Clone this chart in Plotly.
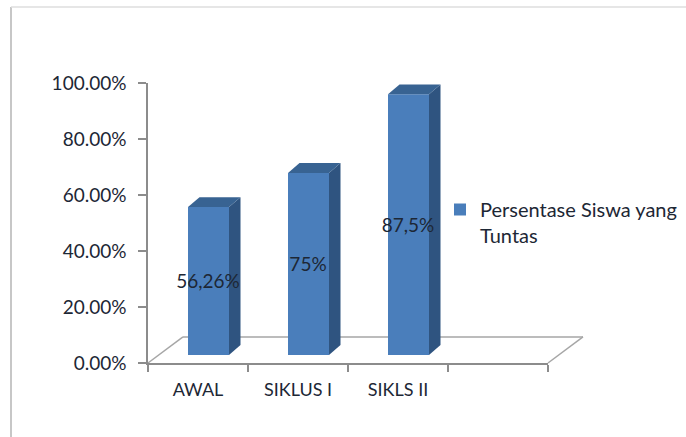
import plotly.graph_objects as go

categories = ["AWAL", "SIKLUS I", "SIKLS II"]
positions = [0, 1, 2]
bar_tops = [55.7, 67.9, 96.0]
floor_base = 2.9
data_labels = ["56,26%", "75%", "87,5%"]
series_name = "Persentase Siswa yang<br>Tuntas"
y_ticks = [0, 20, 40, 60, 80, 100]
y_tick_labels = ["0.00%", "20.00%", "40.00%", "60.00%", "80.00%", "100.00%"]
floor_x = [-0.5, -0.15, 3.85, 3.5]
floor_y = [0, 9.3, 9.3, 0]

W, H = 686, 437
BAR_W = 0.41
BAR_OFF = -0.10
DX, DY = 0.115, 3.5
LABEL_NUDGE = -0.9
FONT = "Lato"
TXT = "#1d2735"
AXC = "#8c8c8c"
FRONT, SIDE, TOP = "#4a7ebb", "#2f5480", "#386392"

fig = go.Figure()

for p, t in zip(positions, bar_tops):
    r = p + BAR_OFF + BAR_W
    l = p + BAR_OFF
    fig.add_trace(go.Scatter(x=[r, r + DX, r + DX, r, r], y=[floor_base, floor_base + DY, t + DY, t, floor_base],
                             fill="toself", fillcolor=SIDE, mode="lines", line=dict(width=0),
                             showlegend=False, hoverinfo="skip"))
    fig.add_trace(go.Scatter(x=[l, l + DX, r + DX, r, l], y=[t, t + DY, t + DY, t, t],
                             fill="toself", fillcolor=TOP, mode="lines", line=dict(width=0),
                             showlegend=False, hoverinfo="skip"))

fig.add_trace(go.Bar(x=positions, y=[t - floor_base for t in bar_tops], base=floor_base,
                     width=BAR_W, offset=BAR_OFF, marker=dict(color=FRONT, line=dict(width=0)),
                     name=series_name, showlegend=True))

fig.add_trace(go.Scatter(x=[p + 0.1 for p in positions],
                         y=[floor_base + (t - floor_base) / 2 + LABEL_NUDGE for t in bar_tops],
                         text=data_labels, mode="text", textposition="middle center",
                         textfont=dict(family=FONT, size=19, color=TXT),
                         showlegend=False, hoverinfo="skip", cliponaxis=False))

# floor outline: paper-referenced so that it may extend past the plot area
shapes = [dict(type="line", xref="paper", yref="paper",
               x0=(floor_x[i] + 0.5) / 4, y0=floor_y[i] / 100,
               x1=(floor_x[i + 1] + 0.5) / 4, y1=floor_y[i + 1] / 100,
               line=dict(color="#a6a6a6", width=1.5), layer="below") for i in range(3)]
shapes += [
    dict(type="line", xref="paper", yref="paper", x0=(11 - 148) / 400, x1=(11 - 148) / 400,
         y0=(363 - 437) / 280, y1=(363 - 7) / 280, line=dict(color="#b4b4b4", width=1.5)),
    dict(type="line", xref="paper", yref="paper", x0=(11 - 148) / 400, x1=(686 - 148) / 400,
         y0=(363 - 7) / 280, y1=(363 - 7) / 280, line=dict(color="#dedede", width=1.5)),
]

fig.update_layout(
    width=W, height=H, margin=dict(l=148, r=W - 548, t=83, b=H - 363, pad=0, autoexpand=False), autosize=False,
    paper_bgcolor="white", plot_bgcolor="rgba(0,0,0,0)", shapes=shapes,
    font=dict(family=FONT, size=19, color=TXT),
    xaxis=dict(range=[-0.5, 3.5], tickmode="array", tickvals=positions,
               ticktext=categories, ticks="", showline=True, linecolor=AXC, linewidth=1.5,
               showgrid=False, zeroline=False, tickfont=dict(family=FONT, size=18, color=TXT),
               ticklabelstandoff=10,
               minor=dict(tickmode="array", tickvals=[-0.5, 0.5, 1.5, 2.5, 3.5], ticks="outside",
                          ticklen=7, tickwidth=1.5, tickcolor=AXC, showgrid=False)),
    yaxis=dict(range=[0, 100], tickmode="array", tickvals=y_ticks,
               ticktext=y_tick_labels, ticks="outside", ticklen=8, tickwidth=1.5, tickcolor=AXC,
               showline=True, linecolor=AXC, linewidth=1.5, showgrid=False, zeroline=False,
               ticklabelstandoff=8,
               tickfont=dict(family=FONT, size=19, color=TXT)),
    legend=dict(x=(440 - 148) / 400, y=(363 - 190) / 280, xanchor="left", yanchor="top", bgcolor="rgba(0,0,0,0)",
                valign="top", font=dict(family=FONT, size=20, color=TXT)),
    showlegend=True,
)
fig.write_html("out.html", post_script="document.body.style.margin='0';", config={"displayModeBar": False})
